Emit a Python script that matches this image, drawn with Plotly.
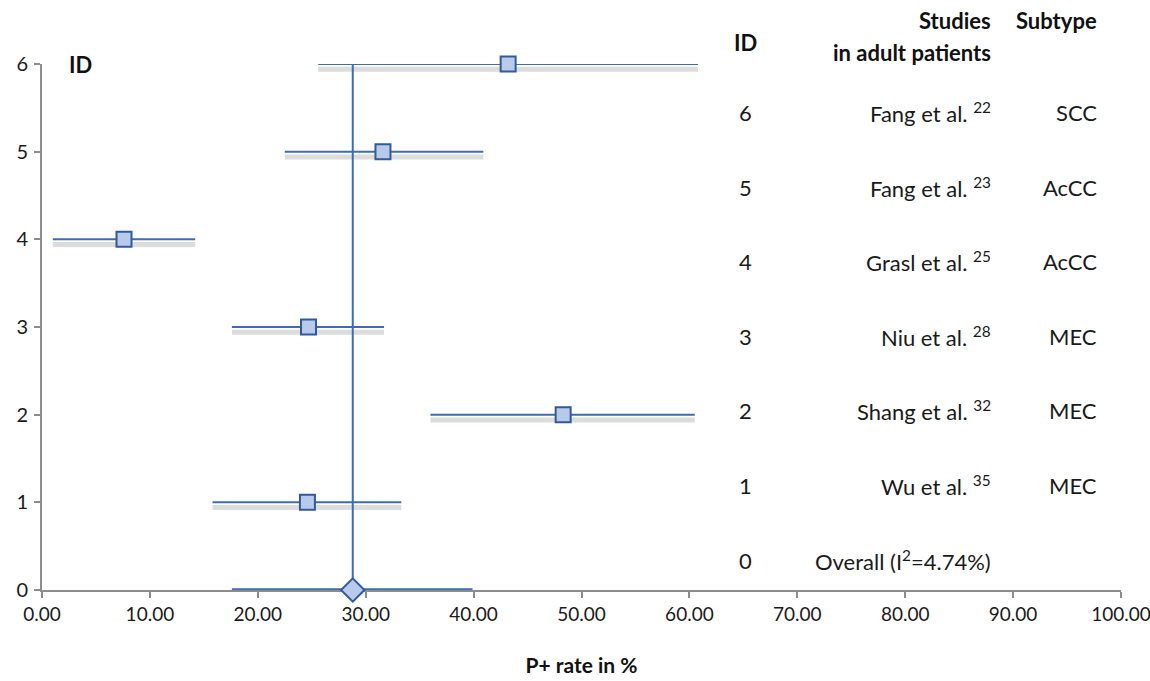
import plotly.graph_objects as go

# ---- data ----
ids = [6, 5, 4, 3, 2, 1]
est = [43.2, 31.6, 7.6, 24.7, 48.3, 24.6]
lower = [25.6, 22.5, 1.0, 17.6, 36.0, 15.8]
upper = [60.8, 40.9, 14.2, 31.7, 60.5, 33.3]
studies = ["Fang et al. <sup>22</sup>", "Fang et al. <sup>23</sup>", "Grasl et al. <sup>25</sup>",
           "Niu et al. <sup>28</sup>", "Shang et al. <sup>32</sup>", "Wu et al. <sup>35</sup>"]
subtypes = ["SCC", "AcCC", "AcCC", "MEC", "MEC", "MEC"]
overall_id = 0
overall_est = 28.8
overall_lower = 17.6
overall_upper = 39.9
overall_label = "Overall (I<sup>2</sup>=4.74%)"
x_ticks = [0, 10, 20, 30, 40, 50, 60, 70, 80, 90, 100]
y_ticks = [0, 1, 2, 3, 4, 5, 6]

FONT = "Lato"
BLUE = "#3C6DB4"
FILL = "#B8CAEA"
EDGE = "#2F5A9E"
SHADOW = "#DCDCDC"
AXIS = "#8C8C8C"

def segs(lo, hi, yy, dy=0.0):
    xs, ys = [], []
    for a, b, y in zip(lo, hi, yy):
        xs += [a, b, None]
        ys += [y - dy, y - dy, None]
    return xs, ys

fig = go.Figure()

# shadows
sx, sy = segs(lower, upper, ids, dy=0.06)
fig.add_trace(go.Scatter(x=sx, y=sy, mode="lines", line=dict(color=SHADOW, width=5),
                         hoverinfo="skip", showlegend=False, cliponaxis=False))
# CI lines
lx, ly = segs(lower, upper, ids)
fig.add_trace(go.Scatter(x=lx, y=ly, mode="lines", line=dict(color=BLUE, width=2),
                         hoverinfo="skip", showlegend=False, cliponaxis=False))
# overall CI line
ox, oy = segs([overall_lower], [overall_upper], [overall_id])
fig.add_trace(go.Scatter(x=ox, y=oy, mode="lines", line=dict(color=BLUE, width=3.5),
                         hoverinfo="skip", showlegend=False, cliponaxis=False))
# vertical overall line
fig.add_trace(go.Scatter(x=[overall_est, overall_est], y=[overall_id, max(ids)], mode="lines",
                         line=dict(color=BLUE, width=2), hoverinfo="skip", showlegend=False,
                         cliponaxis=False))
# study points
fig.add_trace(go.Scatter(x=est, y=ids, mode="markers",
                         marker=dict(symbol="square", size=15, color=FILL,
                                     line=dict(color=EDGE, width=2)),
                         showlegend=False, cliponaxis=False))
# overall diamond
fig.add_trace(go.Scatter(x=[overall_est], y=[overall_id], mode="markers",
                         marker=dict(symbol="diamond", size=18, color=FILL,
                                     line=dict(color=EDGE, width=2)),
                         showlegend=False, cliponaxis=False))

# table annotations
ann = []
row_base, row_step = 0.057, 0.1417
col_id, col_study, col_sub = 65.2, 88.1, 98.0
tf = dict(family=FONT, size=22, color="#1a1a1a")
bf = dict(family=FONT, size=22, color="#111111", weight="bold")
for i, s, t in zip(ids, studies, subtypes):
    yp = row_base + i * row_step
    ann.append(dict(x=col_id, y=yp, xref="x", yref="paper", text=str(i), showarrow=False,
                    xanchor="center", yanchor="middle", font=tf))
    ann.append(dict(x=col_study, y=yp, xref="x", yref="paper", text=s, showarrow=False,
                    xanchor="right", yanchor="middle", font=tf))
    ann.append(dict(x=col_sub, y=yp, xref="x", yref="paper", text=t, showarrow=False,
                    xanchor="right", yanchor="middle", font=tf))
yp0 = row_base + overall_id * row_step
ann.append(dict(x=col_id, y=yp0, xref="x", yref="paper", text=str(overall_id), showarrow=False,
                xanchor="center", yanchor="middle", font=tf))
ann.append(dict(x=col_study, y=yp0, xref="x", yref="paper", text=overall_label, showarrow=False,
                xanchor="right", yanchor="middle", font=tf))
# headers
ann.append(dict(x=col_id, y=1.040, xref="x", yref="paper", text="ID", showarrow=False,
                xanchor="center", yanchor="middle", font=bf))
ann.append(dict(x=col_study, y=1.082, xref="x", yref="paper", text="Studies", showarrow=False,
                xanchor="right", yanchor="middle", font=bf))
ann.append(dict(x=col_study, y=1.022, xref="x", yref="paper", text="in adult patients",
                showarrow=False, xanchor="right", yanchor="middle", font=bf))
ann.append(dict(x=col_sub, y=1.082, xref="x", yref="paper", text="Subtype", showarrow=False,
                xanchor="right", yanchor="middle", font=bf))
ann.append(dict(x=3.6, y=1.0, xref="x", yref="paper", text="ID", showarrow=False,
                xanchor="center", yanchor="middle", font=bf))

fig.update_layout(
    width=1150, height=681,
    margin=dict(l=42, r=29, t=64, b=91, autoexpand=False),
    paper_bgcolor="white", plot_bgcolor="white",
    annotations=ann,
    xaxis=dict(range=[0, 100], tickvals=x_ticks, ticktext=[f"{v:.2f}" for v in x_ticks],
               showgrid=False, zeroline=False, showline=True, linecolor=AXIS, linewidth=2,
               ticks="outside", ticklen=6, tickwidth=2, tickcolor=AXIS, layer="below traces",
               ticklabeloverflow="allow", automargin=False,
               tickfont=dict(family=FONT, size=19, color="#1a1a1a"),
               title=dict(text="<b>P+ rate in %</b>", font=dict(family=FONT, size=21, color="#111"),
                          standoff=35)),
    yaxis=dict(range=[0, 6], tickvals=y_ticks, showgrid=False, zeroline=False, showline=True,
               linecolor=AXIS, linewidth=2, ticks="outside", ticklen=6, tickwidth=2,
               tickcolor=AXIS, ticklabelstandoff=2, layer="below traces",
               ticklabeloverflow="allow", automargin=False,
               tickfont=dict(family=FONT, size=20, color="#1a1a1a")),
)

fig.write_html("out.html", config={"displayModeBar": False},
               post_script="document.body.style.margin='0';document.body.style.overflow='hidden';")
